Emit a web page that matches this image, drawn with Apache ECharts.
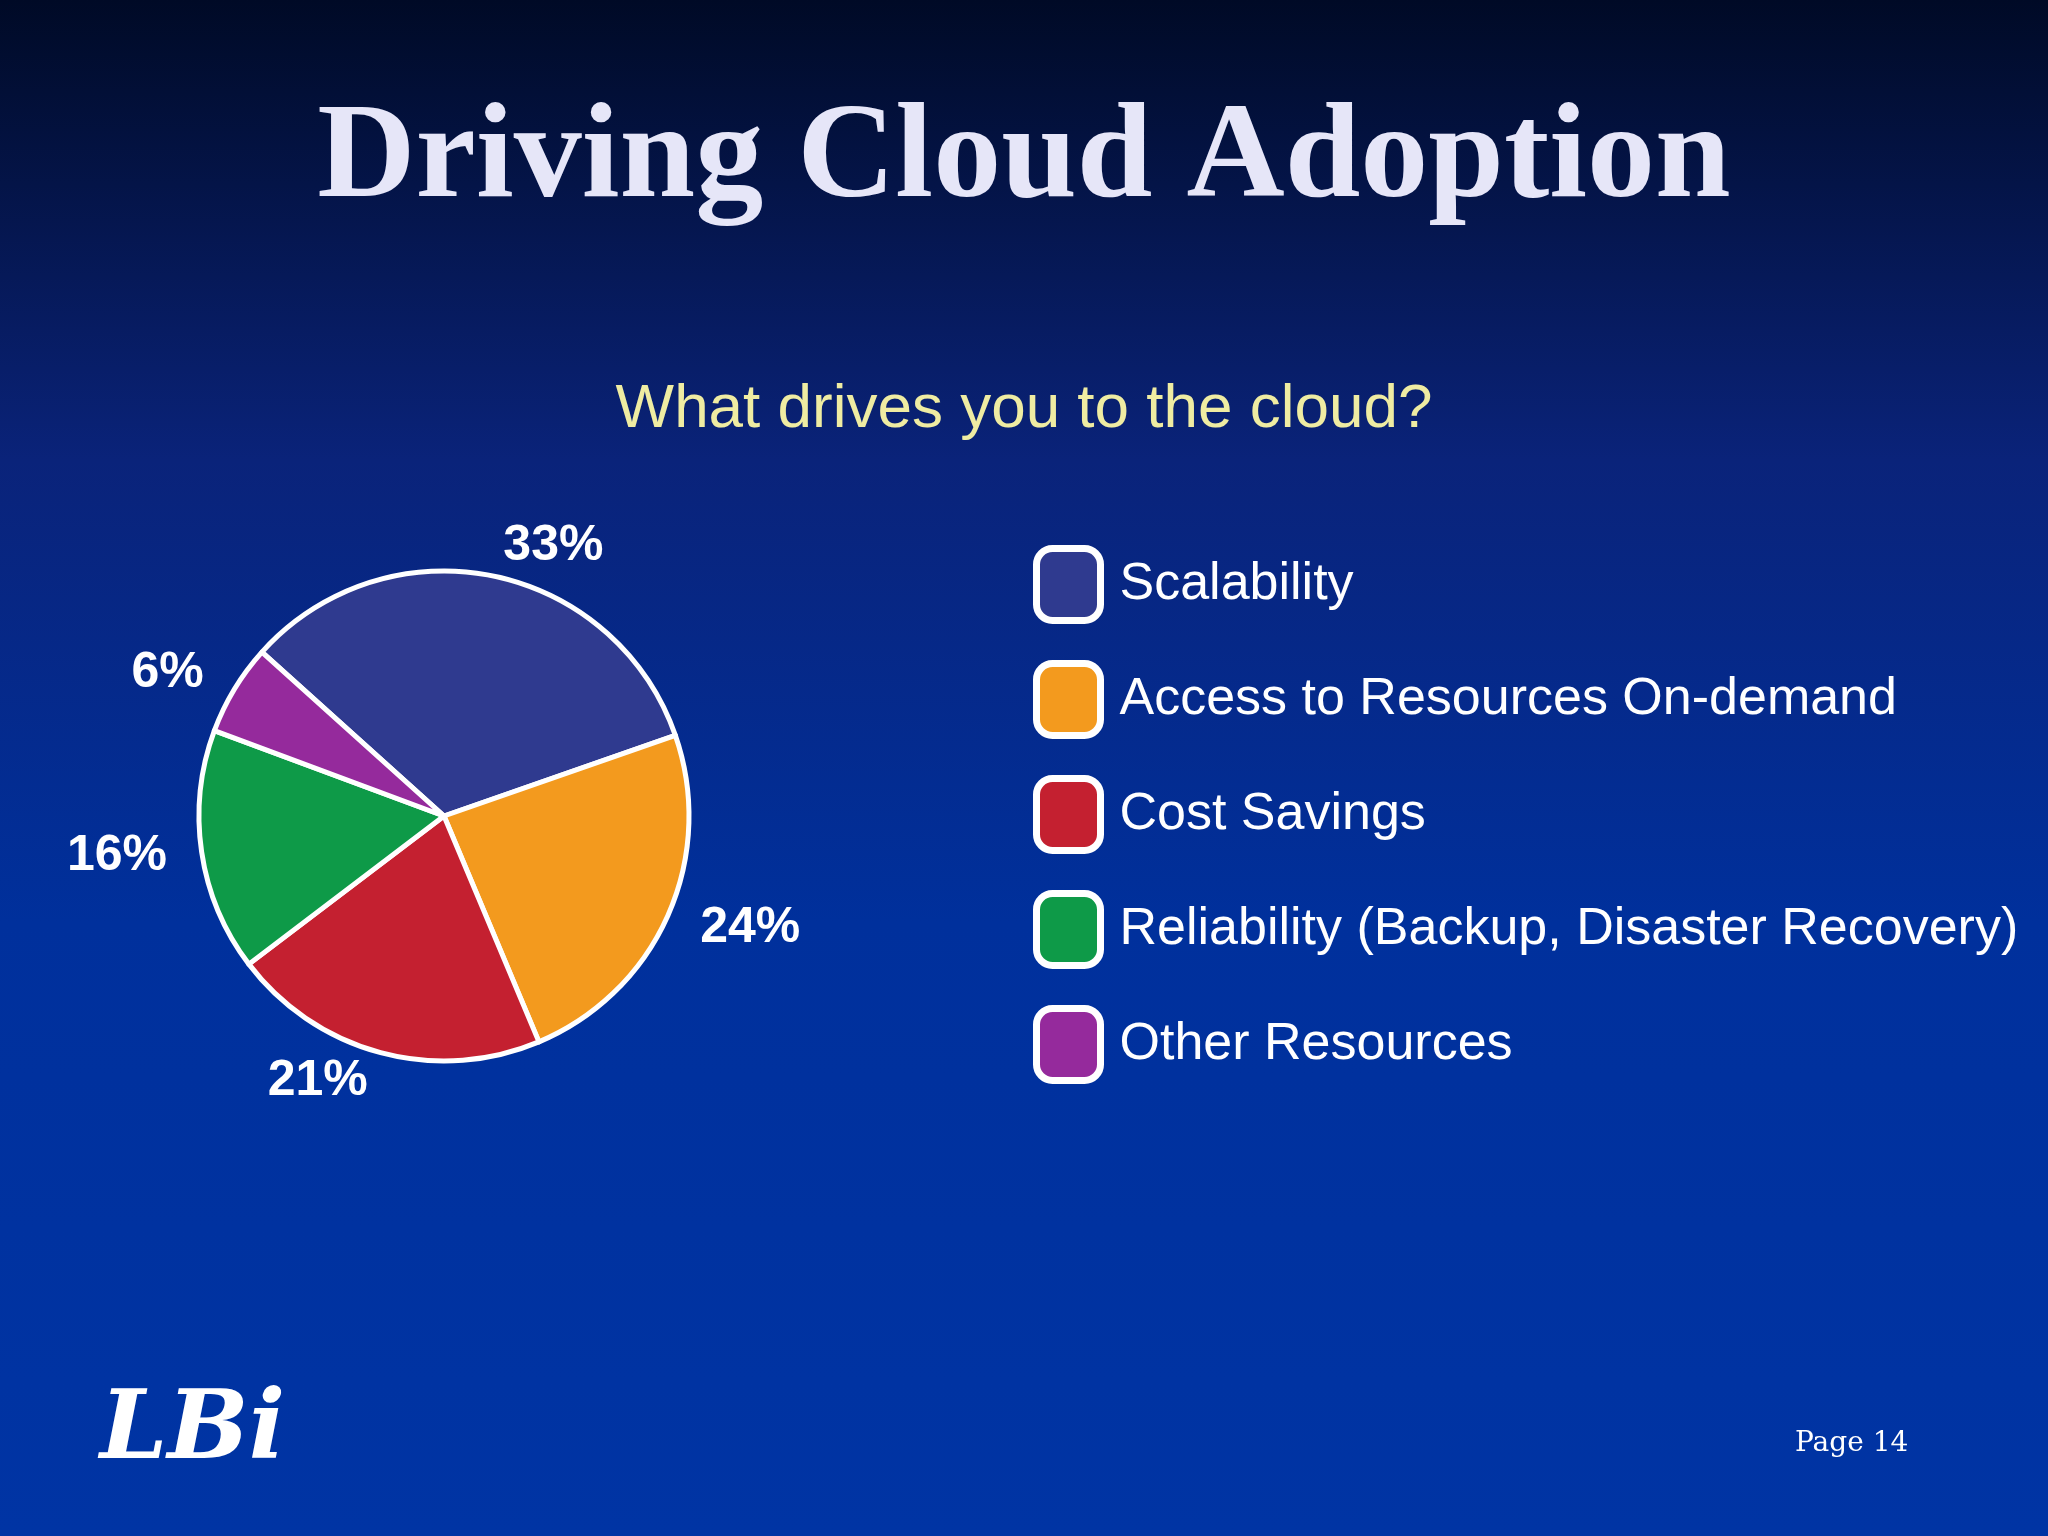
<!DOCTYPE html>
<html>
<head>
<meta charset="utf-8">
<script src="https://cdn.jsdelivr.net/npm/echarts@6/dist/echarts.min.js"></script>
<style>
  html, body { margin: 0; padding: 0; }
  #chart { width: 2048px; height: 1536px; }
</style>
</head>
<body>
<div id="chart"></div>
<script>
const categories = [
  "Scalability",
  "Access to Resources On-demand",
  "Cost Savings",
  "Reliability (Backup, Disaster Recovery)",
  "Other Resources"
];
const values = [33, 24, 21, 16, 6];
const colors = ["#2f3a8f", "#f39a1e", "#c42030", "#0e9a48", "#952a9c"];

const chart = echarts.init(document.getElementById("chart"));

const options = {
  backgroundColor: {
    type: "linear", x: 0, y: 0, x2: 0, y2: 1,
    colorStops: [
      { offset: 0, color: "#000a26" },
      { offset: 0.3, color: "#0a237a" },
      { offset: 0.6, color: "#00309c" },
      { offset: 1, color: "#0034a4" }
    ]
  },
  title: [
    {
      text: "Driving Cloud Adoption",
      left: "center",
      top: 88,
      textStyle: { color: "#e6e6f8", fontFamily: "Liberation Serif", fontWeight: "bold", fontSize: 136 }
    },
    {
      text: "What drives you to the cloud?",
      left: "center",
      top: 374,
      textStyle: { color: "#efeca2", fontFamily: "Liberation Sans", fontWeight: "normal", fontSize: 62 }
    }
  ],
  legend: {
    orient: "vertical",
    left: 1028,
    top: 540,
    itemWidth: 64,
    itemHeight: 72,
    itemGap: 36,
    icon: "roundRect",
    itemStyle: { borderColor: "#ffffff", borderWidth: 7 },
    textStyle: { color: "#ffffff", fontFamily: "Liberation Sans", fontSize: 52, padding: [0, 0, 0, 14] },
    data: categories
  },
  series: [
    {
      type: "pie",
      center: [444, 816],
      radius: [0, 245],
      startAngle: 138,
      clockwise: true,
      color: colors,
      itemStyle: { borderColor: "#ffffff", borderWidth: 5 },
      label: {
        show: true,
        position: "outside",
        formatter: "{d}%",
        color: "#ffffff",
        fontFamily: "Liberation Sans",
        fontWeight: "bold",
        fontSize: 50
      },
      labelLine: { show: false, length: 30, length2: 0 },
      data: categories.map((c, i) => ({ name: c, value: values[i] }))
    }
  ],
  graphic: [
    {
      type: "text",
      left: 100,
      top: 1385,
      style: { text: "LBi", fill: "#ffffff", font: "italic bold 96px 'DejaVu Serif'" }
    },
    {
      type: "text",
      left: 1795,
      top: 1430,
      style: { text: "Page 14", fill: "#ffffff", font: "28px 'DejaVu Serif'" }
    }
  ]
};

chart.setOption(options);
</script>
</body>
</html>
